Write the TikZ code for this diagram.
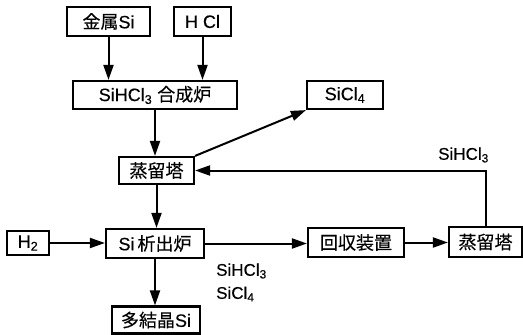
\documentclass[tikz,border=0pt]{standalone}
\usepackage{fontspec}
\setmainfont{Liberation Sans}[FakeBold=0.3]
\newfontfamily\jp{Noto Sans CJK JP}[FakeBold=0.3]
\usetikzlibrary{arrows.meta}
\begin{document}
\begin{tikzpicture}[x=1pt,y=-1pt,
  box/.style={draw,line width=2.2pt,inner sep=0pt,font=\fontsize{18}{20}\selectfont},
  flow/.style={line width=2pt,-{Triangle[length=15pt,width=10pt]}},
  lbl/.style={inner sep=0pt,font=\fontsize{17}{19}\selectfont}]
\useasboundingbox (0,0) rectangle (523,335);
\node[box,minimum width=83pt,minimum height=29pt] (metal) at (108.5,21.5) {{\jp 金属}Si};
\node[box,minimum width=57pt,minimum height=29pt] (hcl) at (202.5,21.5) {H Cl};
\node[box,minimum width=164pt,minimum height=28pt] (synth) at (155,95) {SiHCl\textsubscript{3} {\jp 合成炉}};
\node[box,minimum width=76pt,minimum height=28pt] (sicl4) at (345,95) {SiCl\textsubscript{4}};
\node[box,minimum width=75pt,minimum height=27pt] (dist1) at (156.5,170.5) {\jp 蒸留塔};
\node[box,minimum width=42pt,minimum height=24pt] (h2) at (28,243) {H\textsubscript{2}};
\node[box,minimum width=98pt,minimum height=29pt] (si) at (155,243.5) {Si\,{\jp 析出炉}};
\node[box,minimum width=96pt,minimum height=29pt] (recov) at (356,242.5) {\jp 回収装置};
\node[box,minimum width=73pt,minimum height=30pt] (dist2) at (485.5,242) {\jp 蒸留塔};
\node[box,minimum width=88pt,minimum height=27pt] (poly) at (156,320) {{\jp 多結晶}Si};
\node[lbl,anchor=east] (l1) at (489,155) {SiHCl\textsubscript{3}};
\node[lbl,anchor=west] (l2) at (216,271) {SiHCl\textsubscript{3}};
\node[lbl,anchor=west] (l3) at (216,294) {SiCl\textsubscript{4}};
\draw[flow] (metal.south) -- (metal.south |- synth.north);
\draw[flow] (hcl.south) -- (hcl.south |- synth.north);
\draw[flow] (synth.south) -- (synth.south |- dist1.north);
\draw[flow] (dist1.north east) -- (sicl4.south west);
\draw[flow] (dist2.north) |- (dist1.east);
\draw[flow] (dist1.south) -- (dist1.south |- si.north);
\draw[flow] (h2.east) -- (h2.east -| si.west);
\draw[flow] (si.east) -- (si.east -| recov.west);
\draw[flow] (recov.east) -- (recov.east -| dist2.west);
\draw[flow] (si.south) -- (si.south |- poly.north);
\end{tikzpicture}
\end{document}
